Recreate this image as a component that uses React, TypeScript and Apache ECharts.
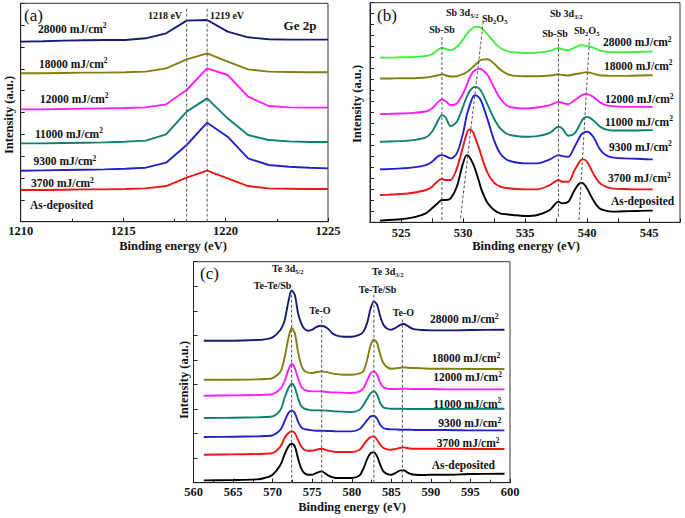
import React, { useEffect, useRef } from 'react';
import * as echarts from 'echarts';

const FONT = '"Liberation Serif", "Times New Roman", Times, serif';

// ---------- Panel (a): Ge 2p ----------
const energyA = [1210, 1211.1, 1212.1, 1213.1, 1214.1, 1215.1, 1216.1, 1217.1, 1218.1, 1219.1, 1220.1, 1221.1, 1222.1, 1223.1, 1224.1, 1225];
const ge28000 = [540, 541, 543, 544, 545, 545, 550, 565, 603, 605, 570, 553, 547, 546, 546, 546];
const ge18000 = [445, 445, 446, 447, 447, 448, 450, 460, 487, 505, 480, 457, 450, 449, 448, 448];
const ge12000 = [337, 337, 338, 339, 340, 341, 343, 352, 395, 460, 440, 375, 347, 343, 342, 342];
const ge11000 = [235, 235, 236, 237, 238, 240, 243, 262, 330, 370, 310, 260, 245, 241, 239, 239];
const ge9300 = [153, 154, 155, 156, 157, 159, 162, 177, 230, 297, 255, 190, 170, 165, 162, 160];
const ge3700 = [95, 95, 96, 97, 97, 98, 100, 107, 132, 153, 130, 107, 100, 99, 98, 98];
const guideA = [[1218.1, 0, 1218.1, 640], [1219.1, 0, 1219.1, 640]];

// ---------- Panel (b): Sb 3d / O 1s ----------
const energyB = [523.3, 524, 525, 526, 527, 527.5, 528, 528.3, 528.6, 529, 529.5, 530, 530.3, 530.5, 530.8, 531, 531.3, 531.5, 532, 532.5, 533, 533.5, 534, 535, 536, 537, 537.7, 538, 538.5, 539, 539.5, 539.7, 540, 540.5, 541, 541.5, 542, 543, 544, 545, 545.3];
const sb28000 = [495, 495, 496, 497, 500, 505, 519, 525, 521, 517, 527, 549, 565, 575, 584, 587, 587, 583, 564, 542, 524, 515, 511, 509, 510, 515, 524, 520, 517, 525, 532, 532, 530, 525, 517, 513, 511, 511, 512, 513, 513];
const sb18000 = [432, 432, 433, 433, 435, 438, 442, 445, 442, 438, 439, 445, 451, 457, 467, 474, 484, 489, 490, 477, 459, 447, 441, 439, 439, 441, 445, 443, 441, 445, 448, 450, 451, 447, 442, 441, 440, 440, 441, 442, 442];
const sb12000 = [325, 326, 327, 329, 333, 342, 362, 369, 364, 352, 357, 387, 412, 432, 452, 457, 462, 460, 442, 405, 372, 352, 345, 342, 345, 352, 362, 359, 355, 367, 380, 384, 385, 377, 362, 352, 349, 347, 347, 347, 347];
const sb11000 = [242, 243, 244, 247, 255, 272, 307, 322, 315, 289, 302, 347, 377, 392, 405, 407, 402, 392, 352, 312, 282, 267, 261, 257, 259, 269, 287, 282, 260, 267, 299, 312, 317, 307, 289, 279, 276, 276, 276, 277, 277];
const sb9300 = [159, 160, 162, 165, 172, 182, 199, 202, 199, 192, 207, 267, 322, 347, 377, 382, 375, 362, 307, 247, 207, 189, 182, 177, 177, 189, 202, 199, 197, 227, 262, 269, 272, 257, 222, 202, 195, 192, 191, 189, 189];
const sb3700 = [82, 83, 85, 89, 97, 107, 125, 130, 127, 127, 162, 227, 267, 279, 272, 252, 222, 197, 147, 119, 107, 103, 101, 99, 99, 112, 127, 122, 122, 157, 187, 189, 182, 147, 119, 107, 102, 100, 99, 99, 99];
const sbAsDep = [5, 7, 9, 15, 27, 42, 59, 67, 67, 72, 107, 177, 202, 197, 177, 157, 122, 97, 57, 37, 27, 24, 22, 19, 22, 37, 62, 57, 62, 97, 119, 117, 102, 67, 42, 35, 32, 33, 34, 35, 35];
const guideB = [[528.3, 7, 528.3, 557], [529.8, 12, 531.65, 607], [537.7, 17, 537.7, 552], [539.35, 7, 540.2, 552]];

// ---------- Panel (c): Te 3d ----------
const energyC = [561.3, 565, 568, 569, 570, 571, 571.5, 572, 572.4, 572.8, 573.2, 573.6, 574, 574.5, 575, 575.5, 576.2, 577, 577.5, 578, 579, 580, 581, 581.5, 582, 582.4, 582.8, 583.2, 583.6, 584, 584.5, 585, 585.5, 586.2, 586.6, 587, 587.5, 588, 589, 590, 592, 595, 599.3];
const te28000 = [426, 426, 428, 430, 436, 459, 485, 544, 577, 564, 510, 479, 462, 456, 459, 467, 471, 462, 449, 442, 438, 438, 444, 454, 484, 524, 544, 534, 499, 474, 462, 459, 464, 474, 476, 471, 464, 460, 458, 457, 457, 458, 459];
const te18000 = [309, 309, 310, 311, 314, 334, 374, 434, 464, 449, 394, 354, 336, 330, 329, 332, 334, 331, 328, 326, 324, 324, 328, 336, 374, 414, 429, 419, 384, 359, 346, 342, 343, 345, 346, 345, 344, 344, 343, 342, 342, 341, 341];
const te12000 = [261, 262, 263, 264, 266, 282, 304, 339, 356, 344, 314, 289, 279, 275, 274, 274, 274, 272, 271, 271, 270, 269, 274, 284, 309, 329, 334, 324, 299, 286, 282, 281, 281, 282, 282, 282, 281, 281, 281, 281, 280, 280, 280];
const te11000 = [194, 195, 196, 197, 199, 219, 254, 284, 297, 286, 254, 231, 222, 219, 217, 217, 217, 216, 215, 214, 213, 212, 219, 234, 254, 269, 274, 264, 239, 226, 223, 222, 222, 222, 222, 221, 221, 221, 221, 221, 221, 222, 222];
const te9300 = [137, 138, 139, 140, 142, 159, 184, 209, 217, 209, 184, 167, 161, 159, 157, 156, 156, 155, 155, 154, 154, 154, 161, 174, 189, 199, 201, 192, 174, 164, 161, 160, 160, 159, 159, 159, 159, 158, 158, 158, 158, 157, 157];
const te3700 = [84, 85, 86, 87, 89, 109, 134, 149, 154, 149, 129, 109, 99, 96, 96, 99, 102, 96, 94, 92, 92, 92, 99, 114, 129, 137, 139, 129, 114, 104, 100, 99, 101, 105, 106, 104, 102, 102, 102, 102, 102, 101, 101];
const teAsDep = [7, 8, 10, 14, 24, 54, 84, 109, 117, 109, 74, 44, 29, 24, 24, 29, 34, 22, 17, 14, 14, 14, 22, 44, 74, 89, 91, 79, 54, 34, 26, 24, 29, 37, 37, 31, 26, 24, 23, 24, 24, 26, 27];
const guideC = [[572.4, 0, 572.4, 574], [576.2, 0, 576.2, 499], [582.8, 0, 582.8, 564], [586.4, 0, 586.4, 494]];

// ---------- Texts ----------
const doses = ['28000', '18000', '12000', '11000', '9300', '3700'];
const asDeposited = 'As-deposited';
const xTitle = 'Binding energy (eV)';
const yTitle = 'Intensity (a.u.)';

// ---------- Styles / layout ----------
const NAVY = '#1a1a72';
const OLIVE = '#808012';
const MAGENTA = '#ff1cff';
const TEAL = '#0f7f70';
const BLUE = '#2222cc';
const RED = '#f01414';
const GREEN = '#44ee44';
const BLACK = '#000000';

const colorsA = [NAVY, OLIVE, MAGENTA, TEAL, BLUE, RED];
const colorsB = [GREEN, OLIVE, MAGENTA, TEAL, BLUE, RED, BLACK];
const colorsC = [NAVY, OLIVE, MAGENTA, TEAL, BLUE, RED, BLACK];

const posA = [[38, 28.5], [39, 63.5], [40, 98.5], [35, 133.5], [33.5, 161], [31, 183], [30, 205]];
const posB = [[603, 42], [604, 65.5], [605, 99], [605, 121.7], [609, 146.7], [608, 178.3], [611, 201]];
const posC = [[430, 319], [431.7, 358], [433.3, 377], [433.3, 403.7], [438.3, 423], [436.7, 443], [431.7, 465.3]];

const rich: any = {
  b: { fontFamily: FONT, fontWeight: 'bold', fontSize: 11.5, lineHeight: 14, fill: '#111', color: '#111' },
  sup: { fontFamily: FONT, fontWeight: 'bold', fontSize: 7.5, lineHeight: 7, verticalAlign: 'top', fill: '#111', color: '#111' },
  p: { fontFamily: FONT, fontWeight: 'bold', fontSize: 10, lineHeight: 13, fill: '#111', color: '#111' },
  sub: { fontFamily: FONT, fontWeight: 'bold', fontSize: 6.5, lineHeight: 6, verticalAlign: 'bottom', fill: '#111', color: '#111' },
};

function txt(x: number, y: number, text: string, extra: any = {}) {
  return {
    type: 'text',
    x,
    y,
    silent: true,
    z: 100,
    rotation: extra.rotation || 0,
    style: {
      text,
      rich,
      fontFamily: FONT,
      fontWeight: extra.fontWeight || 'bold',
      fontSize: extra.fontSize || 11.5,
      fill: '#111',
      align: extra.align || 'left',
      verticalAlign: 'middle',
    },
  };
}

function doseText(i: number) {
  return i < doses.length ? `{b|${doses[i]} mJ/cm}{sup|2}` : `{b|${asDeposited}}`;
}

function line(xs: number[], ys: number[], color: string, gi: number, smooth: number | boolean) {
  return {
    type: 'line',
    xAxisIndex: gi,
    yAxisIndex: gi,
    data: xs.map((x, i) => [x, ys[i]]),
    showSymbol: false,
    symbol: 'none',
    smooth,
    silent: true,
    lineStyle: { color, width: 1.9 },
    itemStyle: { color },
    z: 2,
  };
}

function guide(seg: number[], gi: number) {
  return {
    type: 'line',
    xAxisIndex: gi,
    yAxisIndex: gi,
    data: [[seg[0], seg[1]], [seg[2], seg[3]]],
    showSymbol: false,
    symbol: 'none',
    silent: true,
    lineStyle: { color: '#555', width: 1, type: [3, 2] },
    z: 3,
  };
}

const tickLabel = { fontFamily: FONT, fontWeight: 'bold', fontSize: 12.5, color: '#111' };

function xAxisCfg(gi: number, min: number, max: number, interval: number, extra: any = {}) {
  return {
    type: 'value',
    gridIndex: gi,
    min,
    max,
    interval,
    axisLine: { show: true, lineStyle: { color: '#222', width: 1 } },
    axisTick: { show: true, inside: true, length: 4, lineStyle: { color: '#222' } },
    minorTick: extra.minor ? { show: true, splitNumber: 2, length: 3, lineStyle: { color: '#222' } } : { show: false },
    splitLine: { show: false },
    minorSplitLine: { show: false },
    axisLabel: { ...tickLabel, margin: extra.margin || 3, formatter: extra.formatter },
  };
}

function yAxisCfg(gi: number, max: number, interval: number) {
  return {
    type: 'value',
    gridIndex: gi,
    min: 0,
    max,
    interval,
    axisLine: { show: true, lineStyle: { color: '#222', width: 1 } },
    axisTick: { show: true, inside: true, length: 4, lineStyle: { color: '#222' } },
    axisLabel: { show: false },
    splitLine: { show: false },
  };
}

const gridStyle = { show: true, borderColor: '#333', borderWidth: 1, backgroundColor: 'transparent' };
const plainNum = (v: number) => String(v);
const everyFive = (v: number) => (Math.abs(v % 5) < 1e-6 ? String(v) : '');

function buildOption() {
  const seriesA = [ge28000, ge18000, ge12000, ge11000, ge9300, ge3700];
  const seriesB = [sb28000, sb18000, sb12000, sb11000, sb9300, sb3700, sbAsDep];
  const seriesC = [te28000, te18000, te12000, te11000, te9300, te3700, teAsDep];

  const series: any[] = [];
  seriesA.forEach((ys, i) => series.push(line(energyA, ys, colorsA[i], 0, false)));
  seriesB.forEach((ys, i) => series.push(line(energyB, ys, colorsB[i], 1, 0.3)));
  seriesC.forEach((ys, i) => series.push(line(energyC, ys, colorsC[i], 2, 0.3)));
  guideA.forEach((g) => series.push(guide(g, 0)));
  guideB.forEach((g) => series.push(guide(g, 1)));
  guideC.forEach((g) => series.push(guide(g, 2)));

  const graphics: any[] = [];
  graphics.push(txt(24, 15, '(a)', { fontWeight: 'normal', fontSize: 17 }));
  graphics.push(txt(377, 15, '(b)', { fontWeight: 'normal', fontSize: 17 }));
  graphics.push(txt(200, 273, '(c)', { fontWeight: 'normal', fontSize: 17 }));
  posA.forEach((p, i) => graphics.push(txt(p[0], p[1], doseText(i))));
  posB.forEach((p, i) => graphics.push(txt(p[0], p[1], doseText(i))));
  posC.forEach((p, i) => graphics.push(txt(p[0], p[1], doseText(i))));
  graphics.push(txt(165, 15, '1218 eV', { align: 'center', fontSize: 10 }));
  graphics.push(txt(227, 15, '1219 eV', { align: 'center', fontSize: 10 }));
  graphics.push(txt(300, 25, 'Ge 2p', { align: 'center', fontSize: 13 }));
  graphics.push(txt(442, 29, '{p|Sb-Sb}', { align: 'center' }));
  graphics.push(txt(446, 12, '{p|Sb 3d}{sub|5/2}'));
  graphics.push(txt(482, 18, '{p|Sb}{sub|2}{p|O}{sub|5}'));
  graphics.push(txt(550, 13, '{p|Sb 3d}{sub|3/2}'));
  graphics.push(txt(555, 33, '{p|Sb-Sb}', { align: 'center' }));
  graphics.push(txt(574, 30, '{p|Sb}{sub|2}{p|O}{sub|5}'));
  graphics.push(txt(272, 268, '{p|Te 3d}{sub|5/2}'));
  graphics.push(txt(272.5, 285, '{p|Te-Te/Sb}', { align: 'center' }));
  graphics.push(txt(320, 310, '{p|Te-O}', { align: 'center' }));
  graphics.push(txt(372, 271.5, '{p|Te 3d}{sub|3/2}'));
  graphics.push(txt(377.5, 289, '{p|Te-Te/Sb}', { align: 'center' }));
  graphics.push(txt(403.5, 312.5, '{p|Te-O}', { align: 'center' }));
  graphics.push(txt(173, 246, xTitle, { align: 'center', fontSize: 12.5 }));
  graphics.push(txt(526, 246, xTitle, { align: 'center', fontSize: 12.5 }));
  graphics.push(txt(352, 507, xTitle, { align: 'center', fontSize: 12.5 }));
  graphics.push(txt(8.5, 115, yTitle, { align: 'center', fontSize: 12.5, rotation: Math.PI / 2 }));
  graphics.push(txt(356.5, 104, yTitle, { align: 'center', fontSize: 12.5, rotation: Math.PI / 2 }));
  graphics.push(txt(183.5, 380, yTitle, { align: 'center', fontSize: 12.5, rotation: Math.PI / 2 }));

  return {
    animation: false,
    backgroundColor: '#ffffff',
    grid: [
      { ...gridStyle, left: 20.7, top: 3.3, width: 307.3, height: 218.4 },
      { ...gridStyle, left: 370, top: 2.7, width: 310, height: 219.6 },
      { ...gridStyle, left: 193.5, top: 261.7, width: 316.5, height: 221 },
    ],
    xAxis: [
      xAxisCfg(0, 1210, 1225, 5, { minor: true, margin: 3, formatter: plainNum }),
      xAxisCfg(1, 522.5, 547.5, 2.5, { margin: 4, formatter: everyFive }),
      xAxisCfg(2, 560, 600, 5, { minor: true, margin: 3, formatter: plainNum }),
    ],
    yAxis: [yAxisCfg(0, 655, 65.5), yAxisCfg(1, 660, 33), yAxisCfg(2, 663, 73.667)],
    series,
    graphic: graphics,
  };
}

export default function App() {
  const ref = useRef<HTMLDivElement>(null);
  useEffect(() => {
    if (!ref.current) return;
    const chart = echarts.init(ref.current, null, { renderer: 'svg' });
    chart.setOption(buildOption() as any);
    return () => chart.dispose();
  }, []);
  return (
    <div
      ref={ref}
      style={{ position: 'fixed', left: 0, top: 0, width: 685, height: 518, background: '#ffffff' }}
    />
  );
}
